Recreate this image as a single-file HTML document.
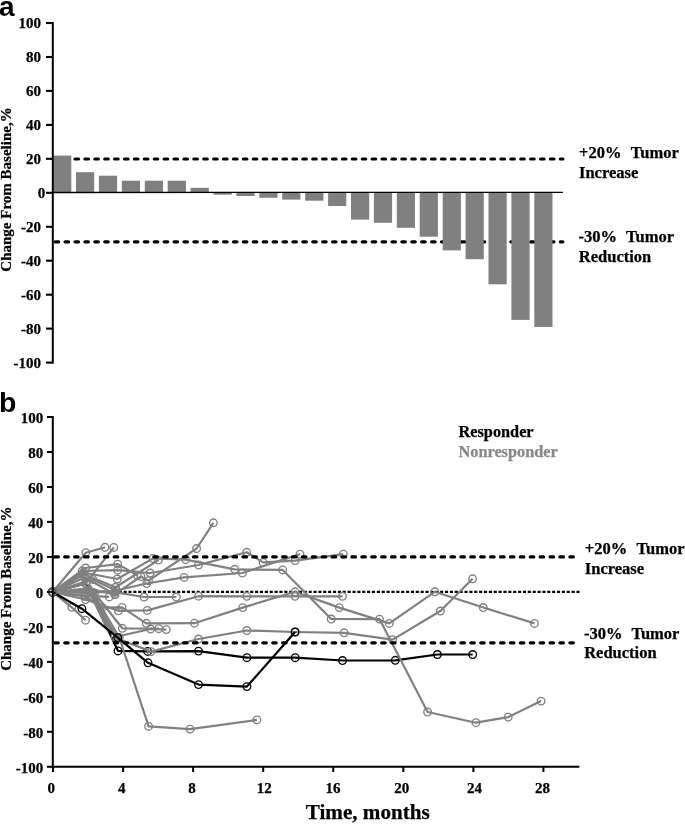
<!DOCTYPE html>
<html><head><meta charset="utf-8"><title>Figure</title>
<style>
html,body{margin:0;padding:0;background:#fff;}
body{width:685px;height:824px;overflow:hidden;}
svg{display:block;filter:grayscale(1);}
text{font-family:"Liberation Serif",serif;font-weight:bold;fill:#000;stroke:#000;stroke-width:0.25px;}
.pl{font-family:"Liberation Sans",sans-serif;font-weight:bold;font-size:28px;stroke:none;}
.tk{font-size:15px;}
.yl{font-size:15px;}
.lb{font-size:16.5px;}
</style></head><body>
<svg width="685" height="824" viewBox="0 0 685 824">
<rect x="0" y="0" width="685" height="824" fill="#fff"/>
<g id="panelA">
<text class="pl" x="-1.1" y="15.7">a</text>
<line x1="55.2" y1="159" x2="562.9" y2="159" stroke="#000" stroke-width="3.2" stroke-linecap="round" stroke-dasharray="3.5 6.405" class="hd"/>
<line x1="55.2" y1="241.8" x2="562.9" y2="241.8" stroke="#000" stroke-width="3.2" stroke-linecap="round" stroke-dasharray="3.5 6.405" class="hd"/>
<rect x="53.1" y="155.6" width="18.2" height="36.9" fill="#808080"/>
<rect x="76.0" y="172.2" width="18.2" height="20.3" fill="#808080"/>
<rect x="98.9" y="175.7" width="18.2" height="16.8" fill="#808080"/>
<rect x="121.8" y="180.7" width="18.2" height="11.8" fill="#808080"/>
<rect x="144.8" y="180.7" width="18.2" height="11.8" fill="#808080"/>
<rect x="167.7" y="180.7" width="18.2" height="11.8" fill="#808080"/>
<rect x="190.6" y="187.8" width="18.2" height="4.7" fill="#808080"/>
<rect x="213.5" y="192.5" width="18.2" height="2.2" fill="#808080"/>
<rect x="236.4" y="192.5" width="18.2" height="3.5" fill="#808080"/>
<rect x="259.3" y="192.5" width="18.2" height="5.3" fill="#808080"/>
<rect x="282.2" y="192.5" width="18.2" height="7.1" fill="#808080"/>
<rect x="305.2" y="192.5" width="18.2" height="8.2" fill="#808080"/>
<rect x="328.1" y="192.5" width="18.2" height="13.5" fill="#808080"/>
<rect x="351.0" y="192.5" width="18.2" height="27.1" fill="#808080"/>
<rect x="373.9" y="192.5" width="18.2" height="30.3" fill="#808080"/>
<rect x="396.8" y="192.5" width="18.2" height="35.3" fill="#808080"/>
<rect x="419.7" y="192.5" width="18.2" height="44.2" fill="#808080"/>
<rect x="442.7" y="192.5" width="18.2" height="57.9" fill="#808080"/>
<rect x="465.6" y="192.5" width="18.2" height="66.7" fill="#808080"/>
<rect x="488.5" y="192.5" width="18.2" height="91.8" fill="#808080"/>
<rect x="511.4" y="192.5" width="18.2" height="127.4" fill="#808080"/>
<rect x="534.3" y="192.5" width="18.2" height="134.5" fill="#808080"/>
<line x1="53" y1="192.5" x2="562.9" y2="192.3" stroke="#000" stroke-width="1.3"/>
<line x1="52.8" y1="22" x2="52.8" y2="363.7" stroke="#000" stroke-width="2"/>
<line x1="46" y1="23.0" x2="52.8" y2="23.0" stroke="#000" stroke-width="2.1"/>
<text class="tk" x="41" y="28.2" text-anchor="end">100</text>
<line x1="46" y1="57.0" x2="52.8" y2="57.0" stroke="#000" stroke-width="2.1"/>
<text class="tk" x="41" y="62.2" text-anchor="end">80</text>
<line x1="46" y1="90.9" x2="52.8" y2="90.9" stroke="#000" stroke-width="2.1"/>
<text class="tk" x="41" y="96.1" text-anchor="end">60</text>
<line x1="46" y1="124.9" x2="52.8" y2="124.9" stroke="#000" stroke-width="2.1"/>
<text class="tk" x="41" y="130.1" text-anchor="end">40</text>
<line x1="46" y1="158.8" x2="52.8" y2="158.8" stroke="#000" stroke-width="2.1"/>
<text class="tk" x="41" y="164.0" text-anchor="end">20</text>
<line x1="46" y1="192.8" x2="52.8" y2="192.8" stroke="#000" stroke-width="2.1"/>
<text class="tk" x="45.2" y="198.0" text-anchor="end">0</text>
<line x1="46" y1="226.8" x2="52.8" y2="226.8" stroke="#000" stroke-width="2.1"/>
<text class="tk" x="41" y="232.0" text-anchor="end">-20</text>
<line x1="46" y1="260.7" x2="52.8" y2="260.7" stroke="#000" stroke-width="2.1"/>
<text class="tk" x="41" y="265.9" text-anchor="end">-40</text>
<line x1="46" y1="294.7" x2="52.8" y2="294.7" stroke="#000" stroke-width="2.1"/>
<text class="tk" x="41" y="299.9" text-anchor="end">-60</text>
<line x1="46" y1="328.6" x2="52.8" y2="328.6" stroke="#000" stroke-width="2.1"/>
<text class="tk" x="41" y="333.8" text-anchor="end">-80</text>
<line x1="46" y1="362.6" x2="52.8" y2="362.6" stroke="#000" stroke-width="2.1"/>
<text class="tk" x="41" y="367.8" text-anchor="end">-100</text>
<text class="yl" transform="translate(10.8,189.5) rotate(-90)" text-anchor="middle">Change From Baseline,%</text>
<text class="lb" x="579" y="157.6" xml:space="preserve" word-spacing="0.7">+20%  Tumor</text>
<text class="lb" x="579" y="177.5">Increase</text>
<text class="lb" x="578.6" y="242.4" xml:space="preserve" word-spacing="0.5">-30%  Tumor</text>
<text class="lb" x="578.8" y="262.3">Reduction</text>
</g>
<g id="panelB">
<text class="pl" x="-1.1" y="412.2" style="font-size:28.5px">b</text>
<line x1="55.4" y1="591.8" x2="580" y2="591.8" stroke="#000" stroke-width="2.2" stroke-dasharray="3.1 1.77"/>
<polyline points="52.6,592.0 85.9,583.4 118.0,650.9 147.7,651.4 198.5,651.1 246.9,657.7 295.2,657.7 342.5,660.5 395.3,660.3 437.4,654.5 472.7,654.5" fill="none" stroke="#000" stroke-width="2.2" stroke-linejoin="round"/>
<circle cx="52.6" cy="592.0" r="3.8" fill="none" stroke="#000" stroke-width="1.35"/>
<circle cx="85.9" cy="583.4" r="3.8" fill="none" stroke="#000" stroke-width="1.35"/>
<circle cx="118.0" cy="650.9" r="3.8" fill="none" stroke="#000" stroke-width="1.35"/>
<circle cx="147.7" cy="651.4" r="3.8" fill="none" stroke="#000" stroke-width="1.35"/>
<circle cx="198.5" cy="651.1" r="3.8" fill="none" stroke="#000" stroke-width="1.35"/>
<circle cx="246.9" cy="657.7" r="3.8" fill="none" stroke="#000" stroke-width="1.35"/>
<circle cx="295.2" cy="657.7" r="3.8" fill="none" stroke="#000" stroke-width="1.35"/>
<circle cx="342.5" cy="660.5" r="3.8" fill="none" stroke="#000" stroke-width="1.35"/>
<circle cx="395.3" cy="660.3" r="3.8" fill="none" stroke="#000" stroke-width="1.35"/>
<circle cx="437.4" cy="654.5" r="3.8" fill="none" stroke="#000" stroke-width="1.35"/>
<circle cx="472.7" cy="654.5" r="3.8" fill="none" stroke="#000" stroke-width="1.35"/>
<polyline points="52.6,592.0 85.8,552.7 105.0,547.3" fill="none" stroke="#808080" stroke-width="2.2" stroke-linejoin="round"/>
<circle cx="52.6" cy="592.0" r="3.8" fill="none" stroke="#808080" stroke-width="1.35"/>
<circle cx="85.8" cy="552.7" r="3.8" fill="none" stroke="#808080" stroke-width="1.35"/>
<circle cx="105.0" cy="547.3" r="3.8" fill="none" stroke="#808080" stroke-width="1.35"/>
<polyline points="52.6,592.0 85.9,583.4 113.8,547.4" fill="none" stroke="#808080" stroke-width="2.2" stroke-linejoin="round"/>
<circle cx="52.6" cy="592.0" r="3.8" fill="none" stroke="#808080" stroke-width="1.35"/>
<circle cx="85.9" cy="583.4" r="3.8" fill="none" stroke="#808080" stroke-width="1.35"/>
<circle cx="113.8" cy="547.4" r="3.8" fill="none" stroke="#808080" stroke-width="1.35"/>
<polyline points="52.6,592.0 85.6,568.0 117.7,564.1 137.4,575.3" fill="none" stroke="#808080" stroke-width="2.2" stroke-linejoin="round"/>
<circle cx="52.6" cy="592.0" r="3.8" fill="none" stroke="#808080" stroke-width="1.35"/>
<circle cx="85.6" cy="568.0" r="3.8" fill="none" stroke="#808080" stroke-width="1.35"/>
<circle cx="117.7" cy="564.1" r="3.8" fill="none" stroke="#808080" stroke-width="1.35"/>
<circle cx="137.4" cy="575.3" r="3.8" fill="none" stroke="#808080" stroke-width="1.35"/>
<polyline points="52.6,592.0 84.5,574.5 115.5,587.3 158.4,560.1" fill="none" stroke="#808080" stroke-width="2.2" stroke-linejoin="round"/>
<circle cx="52.6" cy="592.0" r="3.8" fill="none" stroke="#808080" stroke-width="1.35"/>
<circle cx="84.5" cy="574.5" r="3.8" fill="none" stroke="#808080" stroke-width="1.35"/>
<circle cx="115.5" cy="587.3" r="3.8" fill="none" stroke="#808080" stroke-width="1.35"/>
<circle cx="158.4" cy="560.1" r="3.8" fill="none" stroke="#808080" stroke-width="1.35"/>
<polyline points="52.6,592.0 83.5,572.5 117.3,579.0 153.1,558.4 185.7,559.7 234.7,569.3 282.7,569.9 331.2,619.0 379.5,619.1 427.6,712.0 475.9,722.7 508.2,717.1 541.1,701.1" fill="none" stroke="#808080" stroke-width="2.2" stroke-linejoin="round"/>
<circle cx="52.6" cy="592.0" r="3.8" fill="none" stroke="#808080" stroke-width="1.35"/>
<circle cx="83.5" cy="572.5" r="3.8" fill="none" stroke="#808080" stroke-width="1.35"/>
<circle cx="117.3" cy="579.0" r="3.8" fill="none" stroke="#808080" stroke-width="1.35"/>
<circle cx="153.1" cy="558.4" r="3.8" fill="none" stroke="#808080" stroke-width="1.35"/>
<circle cx="185.7" cy="559.7" r="3.8" fill="none" stroke="#808080" stroke-width="1.35"/>
<circle cx="234.7" cy="569.3" r="3.8" fill="none" stroke="#808080" stroke-width="1.35"/>
<circle cx="282.7" cy="569.9" r="3.8" fill="none" stroke="#808080" stroke-width="1.35"/>
<circle cx="331.2" cy="619.0" r="3.8" fill="none" stroke="#808080" stroke-width="1.35"/>
<circle cx="379.5" cy="619.1" r="3.8" fill="none" stroke="#808080" stroke-width="1.35"/>
<circle cx="427.6" cy="712.0" r="3.8" fill="none" stroke="#808080" stroke-width="1.35"/>
<circle cx="475.9" cy="722.7" r="3.8" fill="none" stroke="#808080" stroke-width="1.35"/>
<circle cx="508.2" cy="717.1" r="3.8" fill="none" stroke="#808080" stroke-width="1.35"/>
<circle cx="541.1" cy="701.1" r="3.8" fill="none" stroke="#808080" stroke-width="1.35"/>
<polyline points="52.6,592.0 82.3,571.0 117.7,570.2 150.2,573.0 198.5,565.0 246.7,552.3 263.1,562.4 295.1,560.6 343.3,554.1" fill="none" stroke="#808080" stroke-width="2.2" stroke-linejoin="round"/>
<circle cx="52.6" cy="592.0" r="3.8" fill="none" stroke="#808080" stroke-width="1.35"/>
<circle cx="82.3" cy="571.0" r="3.8" fill="none" stroke="#808080" stroke-width="1.35"/>
<circle cx="117.7" cy="570.2" r="3.8" fill="none" stroke="#808080" stroke-width="1.35"/>
<circle cx="150.2" cy="573.0" r="3.8" fill="none" stroke="#808080" stroke-width="1.35"/>
<circle cx="198.5" cy="565.0" r="3.8" fill="none" stroke="#808080" stroke-width="1.35"/>
<circle cx="246.7" cy="552.3" r="3.8" fill="none" stroke="#808080" stroke-width="1.35"/>
<circle cx="263.1" cy="562.4" r="3.8" fill="none" stroke="#808080" stroke-width="1.35"/>
<circle cx="295.1" cy="560.6" r="3.8" fill="none" stroke="#808080" stroke-width="1.35"/>
<circle cx="343.3" cy="554.1" r="3.8" fill="none" stroke="#808080" stroke-width="1.35"/>
<polyline points="52.6,592.0 92.8,579.4 116.0,590.5 146.7,583.5 184.1,577.4 242.4,573.0 300.0,554.1" fill="none" stroke="#808080" stroke-width="2.2" stroke-linejoin="round"/>
<circle cx="52.6" cy="592.0" r="3.8" fill="none" stroke="#808080" stroke-width="1.35"/>
<circle cx="92.8" cy="579.4" r="3.8" fill="none" stroke="#808080" stroke-width="1.35"/>
<circle cx="116.0" cy="590.5" r="3.8" fill="none" stroke="#808080" stroke-width="1.35"/>
<circle cx="146.7" cy="583.5" r="3.8" fill="none" stroke="#808080" stroke-width="1.35"/>
<circle cx="184.1" cy="577.4" r="3.8" fill="none" stroke="#808080" stroke-width="1.35"/>
<circle cx="242.4" cy="573.0" r="3.8" fill="none" stroke="#808080" stroke-width="1.35"/>
<circle cx="300.0" cy="554.1" r="3.8" fill="none" stroke="#808080" stroke-width="1.35"/>
<polyline points="52.6,592.0 85.0,577.5 114.7,594.3 140.9,576.5 148.5,580.7 196.6,548.5 213.4,522.8" fill="none" stroke="#808080" stroke-width="2.2" stroke-linejoin="round"/>
<circle cx="52.6" cy="592.0" r="3.8" fill="none" stroke="#808080" stroke-width="1.35"/>
<circle cx="85.0" cy="577.5" r="3.8" fill="none" stroke="#808080" stroke-width="1.35"/>
<circle cx="114.7" cy="594.3" r="3.8" fill="none" stroke="#808080" stroke-width="1.35"/>
<circle cx="140.9" cy="576.5" r="3.8" fill="none" stroke="#808080" stroke-width="1.35"/>
<circle cx="148.5" cy="580.7" r="3.8" fill="none" stroke="#808080" stroke-width="1.35"/>
<circle cx="196.6" cy="548.5" r="3.8" fill="none" stroke="#808080" stroke-width="1.35"/>
<circle cx="213.4" cy="522.8" r="3.8" fill="none" stroke="#808080" stroke-width="1.35"/>
<polyline points="52.6,592.0 87.0,590.3 114.5,592.2 144.0,597.0 176.3,597.0" fill="none" stroke="#808080" stroke-width="2.2" stroke-linejoin="round"/>
<circle cx="52.6" cy="592.0" r="3.8" fill="none" stroke="#808080" stroke-width="1.35"/>
<circle cx="87.0" cy="590.3" r="3.8" fill="none" stroke="#808080" stroke-width="1.35"/>
<circle cx="114.5" cy="592.2" r="3.8" fill="none" stroke="#808080" stroke-width="1.35"/>
<circle cx="144.0" cy="597.0" r="3.8" fill="none" stroke="#808080" stroke-width="1.35"/>
<circle cx="176.3" cy="597.0" r="3.8" fill="none" stroke="#808080" stroke-width="1.35"/>
<polyline points="52.6,592.0 88.0,588.3 115.0,594.7" fill="none" stroke="#808080" stroke-width="2.2" stroke-linejoin="round"/>
<circle cx="52.6" cy="592.0" r="3.8" fill="none" stroke="#808080" stroke-width="1.35"/>
<circle cx="88.0" cy="588.3" r="3.8" fill="none" stroke="#808080" stroke-width="1.35"/>
<circle cx="115.0" cy="594.7" r="3.8" fill="none" stroke="#808080" stroke-width="1.35"/>
<polyline points="52.6,592.0 88.0,595.8 109.2,596.9" fill="none" stroke="#808080" stroke-width="2.2" stroke-linejoin="round"/>
<circle cx="52.6" cy="592.0" r="3.8" fill="none" stroke="#808080" stroke-width="1.35"/>
<circle cx="88.0" cy="595.8" r="3.8" fill="none" stroke="#808080" stroke-width="1.35"/>
<circle cx="109.2" cy="596.9" r="3.8" fill="none" stroke="#808080" stroke-width="1.35"/>
<polyline points="52.6,592.0 114.5,592.2" fill="none" stroke="#808080" stroke-width="2.2" stroke-linejoin="round"/>
<circle cx="52.6" cy="592.0" r="3.8" fill="none" stroke="#808080" stroke-width="1.35"/>
<circle cx="114.5" cy="592.2" r="3.8" fill="none" stroke="#808080" stroke-width="1.35"/>
<polyline points="52.6,592.0 85.5,599.5 118.4,610.8 147.3,610.4 198.5,596.2 246.7,596.3 295.1,596.3 342.5,596.3" fill="none" stroke="#808080" stroke-width="2.2" stroke-linejoin="round"/>
<circle cx="52.6" cy="592.0" r="3.8" fill="none" stroke="#808080" stroke-width="1.35"/>
<circle cx="85.5" cy="599.5" r="3.8" fill="none" stroke="#808080" stroke-width="1.35"/>
<circle cx="118.4" cy="610.8" r="3.8" fill="none" stroke="#808080" stroke-width="1.35"/>
<circle cx="147.3" cy="610.4" r="3.8" fill="none" stroke="#808080" stroke-width="1.35"/>
<circle cx="198.5" cy="596.2" r="3.8" fill="none" stroke="#808080" stroke-width="1.35"/>
<circle cx="246.7" cy="596.3" r="3.8" fill="none" stroke="#808080" stroke-width="1.35"/>
<circle cx="295.1" cy="596.3" r="3.8" fill="none" stroke="#808080" stroke-width="1.35"/>
<circle cx="342.5" cy="596.3" r="3.8" fill="none" stroke="#808080" stroke-width="1.35"/>
<polyline points="52.6,592.0 85.0,596.5 102.2,607.6 122.0,607.4 146.3,623.3 194.4,623.2 242.7,607.6 295.1,591.8 339.3,607.6 389.3,623.4 434.8,591.8 483.3,607.5 534.5,623.4" fill="none" stroke="#808080" stroke-width="2.2" stroke-linejoin="round"/>
<circle cx="52.6" cy="592.0" r="3.8" fill="none" stroke="#808080" stroke-width="1.35"/>
<circle cx="85.0" cy="596.5" r="3.8" fill="none" stroke="#808080" stroke-width="1.35"/>
<circle cx="102.2" cy="607.6" r="3.8" fill="none" stroke="#808080" stroke-width="1.35"/>
<circle cx="122.0" cy="607.4" r="3.8" fill="none" stroke="#808080" stroke-width="1.35"/>
<circle cx="146.3" cy="623.3" r="3.8" fill="none" stroke="#808080" stroke-width="1.35"/>
<circle cx="194.4" cy="623.2" r="3.8" fill="none" stroke="#808080" stroke-width="1.35"/>
<circle cx="242.7" cy="607.6" r="3.8" fill="none" stroke="#808080" stroke-width="1.35"/>
<circle cx="295.1" cy="591.8" r="3.8" fill="none" stroke="#808080" stroke-width="1.35"/>
<circle cx="339.3" cy="607.6" r="3.8" fill="none" stroke="#808080" stroke-width="1.35"/>
<circle cx="389.3" cy="623.4" r="3.8" fill="none" stroke="#808080" stroke-width="1.35"/>
<circle cx="434.8" cy="591.8" r="3.8" fill="none" stroke="#808080" stroke-width="1.35"/>
<circle cx="483.3" cy="607.5" r="3.8" fill="none" stroke="#808080" stroke-width="1.35"/>
<circle cx="534.5" cy="623.4" r="3.8" fill="none" stroke="#808080" stroke-width="1.35"/>
<polyline points="52.6,592.0 71.7,607.3 85.5,620.2" fill="none" stroke="#808080" stroke-width="2.2" stroke-linejoin="round"/>
<circle cx="52.6" cy="592.0" r="3.8" fill="none" stroke="#808080" stroke-width="1.35"/>
<circle cx="71.7" cy="607.3" r="3.8" fill="none" stroke="#808080" stroke-width="1.35"/>
<circle cx="85.5" cy="620.2" r="3.8" fill="none" stroke="#808080" stroke-width="1.35"/>
<polyline points="52.6,592.0 94.5,593.0 122.3,628.3 158.8,628.7" fill="none" stroke="#808080" stroke-width="2.2" stroke-linejoin="round"/>
<circle cx="52.6" cy="592.0" r="3.8" fill="none" stroke="#808080" stroke-width="1.35"/>
<circle cx="94.5" cy="593.0" r="3.8" fill="none" stroke="#808080" stroke-width="1.35"/>
<circle cx="122.3" cy="628.3" r="3.8" fill="none" stroke="#808080" stroke-width="1.35"/>
<circle cx="158.8" cy="628.7" r="3.8" fill="none" stroke="#808080" stroke-width="1.35"/>
<polyline points="52.6,592.0 88.5,590.0 115.0,637.0 150.6,629.0 166.3,629.6" fill="none" stroke="#808080" stroke-width="2.2" stroke-linejoin="round"/>
<circle cx="52.6" cy="592.0" r="3.8" fill="none" stroke="#808080" stroke-width="1.35"/>
<circle cx="88.5" cy="590.0" r="3.8" fill="none" stroke="#808080" stroke-width="1.35"/>
<circle cx="115.0" cy="637.0" r="3.8" fill="none" stroke="#808080" stroke-width="1.35"/>
<circle cx="150.6" cy="629.0" r="3.8" fill="none" stroke="#808080" stroke-width="1.35"/>
<circle cx="166.3" cy="629.6" r="3.8" fill="none" stroke="#808080" stroke-width="1.35"/>
<polyline points="52.6,592.0 91.0,592.0 117.3,638.5 151.1,651.6 198.5,639.0 246.8,630.5 295.1,632.0 344.1,632.8 392.6,639.6 440.4,611.0 472.6,578.8" fill="none" stroke="#808080" stroke-width="2.2" stroke-linejoin="round"/>
<circle cx="52.6" cy="592.0" r="3.8" fill="none" stroke="#808080" stroke-width="1.35"/>
<circle cx="91.0" cy="592.0" r="3.8" fill="none" stroke="#808080" stroke-width="1.35"/>
<circle cx="117.3" cy="638.5" r="3.8" fill="none" stroke="#808080" stroke-width="1.35"/>
<circle cx="151.1" cy="651.6" r="3.8" fill="none" stroke="#808080" stroke-width="1.35"/>
<circle cx="198.5" cy="639.0" r="3.8" fill="none" stroke="#808080" stroke-width="1.35"/>
<circle cx="246.8" cy="630.5" r="3.8" fill="none" stroke="#808080" stroke-width="1.35"/>
<circle cx="295.1" cy="632.0" r="3.8" fill="none" stroke="#808080" stroke-width="1.35"/>
<circle cx="344.1" cy="632.8" r="3.8" fill="none" stroke="#808080" stroke-width="1.35"/>
<circle cx="392.6" cy="639.6" r="3.8" fill="none" stroke="#808080" stroke-width="1.35"/>
<circle cx="440.4" cy="611.0" r="3.8" fill="none" stroke="#808080" stroke-width="1.35"/>
<circle cx="472.6" cy="578.8" r="3.8" fill="none" stroke="#808080" stroke-width="1.35"/>
<polyline points="52.6,592.0 93.0,592.5 119.3,637.5 148.6,726.4 190.1,729.1 256.9,719.9" fill="none" stroke="#808080" stroke-width="2.2" stroke-linejoin="round"/>
<circle cx="52.6" cy="592.0" r="3.8" fill="none" stroke="#808080" stroke-width="1.35"/>
<circle cx="93.0" cy="592.5" r="3.8" fill="none" stroke="#808080" stroke-width="1.35"/>
<circle cx="119.3" cy="637.5" r="3.8" fill="none" stroke="#808080" stroke-width="1.35"/>
<circle cx="148.6" cy="726.4" r="3.8" fill="none" stroke="#808080" stroke-width="1.35"/>
<circle cx="190.1" cy="729.1" r="3.8" fill="none" stroke="#808080" stroke-width="1.35"/>
<circle cx="256.9" cy="719.9" r="3.8" fill="none" stroke="#808080" stroke-width="1.35"/>
<polyline points="88.2,588.5 108.6,631.4" fill="none" stroke="#808080" stroke-width="2.6"/>
<polyline points="52.6,592.0 81.9,608.7 117.7,637.6 148.0,662.8 198.5,684.6 246.9,686.6 295.1,632.0" fill="none" stroke="#000" stroke-width="2.2" stroke-linejoin="round"/>
<circle cx="52.6" cy="592.0" r="3.8" fill="none" stroke="#000" stroke-width="1.35"/>
<circle cx="81.9" cy="608.7" r="3.8" fill="none" stroke="#000" stroke-width="1.35"/>
<circle cx="117.7" cy="637.6" r="3.8" fill="none" stroke="#000" stroke-width="1.35"/>
<circle cx="148.0" cy="662.8" r="3.8" fill="none" stroke="#000" stroke-width="1.35"/>
<circle cx="198.5" cy="684.6" r="3.8" fill="none" stroke="#000" stroke-width="1.35"/>
<circle cx="246.9" cy="686.6" r="3.8" fill="none" stroke="#000" stroke-width="1.35"/>
<circle cx="295.1" cy="632.0" r="3.8" fill="none" stroke="#000" stroke-width="1.35"/>
<circle cx="52.6" cy="592" r="3.8" fill="none" stroke="#808080" stroke-width="1.2"/>
<line x1="54.8" y1="556.9" x2="574.9" y2="556.9" stroke="#000" stroke-width="3.2" stroke-linecap="round" stroke-dasharray="3.5 6.405"/>
<line x1="54.8" y1="642.8" x2="574.9" y2="642.8" stroke="#000" stroke-width="3.2" stroke-linecap="round" stroke-dasharray="3.5 6.405"/>
<line x1="52.8" y1="416" x2="52.8" y2="768" stroke="#000" stroke-width="2"/>
<line x1="51.8" y1="766.8" x2="579.3" y2="766.8" stroke="#000" stroke-width="2"/>
<line x1="47" y1="417.0" x2="52.8" y2="417.0" stroke="#000" stroke-width="2"/>
<text class="tk" x="43.3" y="423.0" text-anchor="end">100</text>
<line x1="47" y1="452.0" x2="52.8" y2="452.0" stroke="#000" stroke-width="2"/>
<text class="tk" x="43.3" y="458.0" text-anchor="end">80</text>
<line x1="47" y1="487.0" x2="52.8" y2="487.0" stroke="#000" stroke-width="2"/>
<text class="tk" x="43.3" y="493.0" text-anchor="end">60</text>
<line x1="47" y1="521.9" x2="52.8" y2="521.9" stroke="#000" stroke-width="2"/>
<text class="tk" x="43.3" y="527.9" text-anchor="end">40</text>
<line x1="47" y1="556.9" x2="52.8" y2="556.9" stroke="#000" stroke-width="2"/>
<text class="tk" x="43.3" y="562.9" text-anchor="end">20</text>
<line x1="47" y1="591.9" x2="52.8" y2="591.9" stroke="#000" stroke-width="2"/>
<text class="tk" x="43.3" y="597.9" text-anchor="end">0</text>
<line x1="47" y1="626.9" x2="52.8" y2="626.9" stroke="#000" stroke-width="2"/>
<text class="tk" x="43.3" y="632.9" text-anchor="end">-20</text>
<line x1="47" y1="661.9" x2="52.8" y2="661.9" stroke="#000" stroke-width="2"/>
<text class="tk" x="43.3" y="667.9" text-anchor="end">-40</text>
<line x1="47" y1="696.8" x2="52.8" y2="696.8" stroke="#000" stroke-width="2"/>
<text class="tk" x="43.3" y="702.8" text-anchor="end">-60</text>
<line x1="47" y1="731.8" x2="52.8" y2="731.8" stroke="#000" stroke-width="2"/>
<text class="tk" x="43.3" y="737.8" text-anchor="end">-80</text>
<line x1="47" y1="766.8" x2="52.8" y2="766.8" stroke="#000" stroke-width="2"/>
<text class="tk" x="43.3" y="772.8" text-anchor="end">-100</text>
<line x1="53.0" y1="766.8" x2="53.0" y2="772" stroke="#000" stroke-width="2"/>
<text class="tk" x="51.2" y="793.3" text-anchor="middle">0</text>
<line x1="123.1" y1="766.8" x2="123.1" y2="772" stroke="#000" stroke-width="2"/>
<text class="tk" x="121.7" y="793.3" text-anchor="middle">4</text>
<line x1="193.1" y1="766.8" x2="193.1" y2="772" stroke="#000" stroke-width="2"/>
<text class="tk" x="192.0" y="793.3" text-anchor="middle">8</text>
<line x1="263.2" y1="766.8" x2="263.2" y2="772" stroke="#000" stroke-width="2"/>
<text class="tk" x="264.3" y="793.3" text-anchor="middle">12</text>
<line x1="333.2" y1="766.8" x2="333.2" y2="772" stroke="#000" stroke-width="2"/>
<text class="tk" x="333.0" y="793.3" text-anchor="middle">16</text>
<line x1="403.3" y1="766.8" x2="403.3" y2="772" stroke="#000" stroke-width="2"/>
<text class="tk" x="401.8" y="793.3" text-anchor="middle">20</text>
<line x1="473.4" y1="766.8" x2="473.4" y2="772" stroke="#000" stroke-width="2"/>
<text class="tk" x="474.4" y="793.3" text-anchor="middle">24</text>
<line x1="543.4" y1="766.8" x2="543.4" y2="772" stroke="#000" stroke-width="2"/>
<text class="tk" x="542.5" y="793.3" text-anchor="middle">28</text>
<text class="yl" transform="translate(11.2,588.7) rotate(-90)" text-anchor="middle">Change From Baseline,%</text>
<text x="305.8" y="819.3" font-size="21.1">Time, months</text>
<text class="lb" x="584.8" y="554.1" xml:space="preserve" word-spacing="0.7">+20%  Tumor</text>
<text class="lb" x="584.8" y="574.1">Increase</text>
<text class="lb" x="584" y="639" xml:space="preserve" word-spacing="0.5">-30%  Tumor</text>
<text class="lb" x="584.2" y="658.4">Reduction</text>
<text x="458.5" y="436.8" font-size="16.3">Responder</text>
<text x="458.5" y="456.5" font-size="16.3" style="fill:#888;stroke:#888">Nonresponder</text>
</g>
</svg>
</body></html>
